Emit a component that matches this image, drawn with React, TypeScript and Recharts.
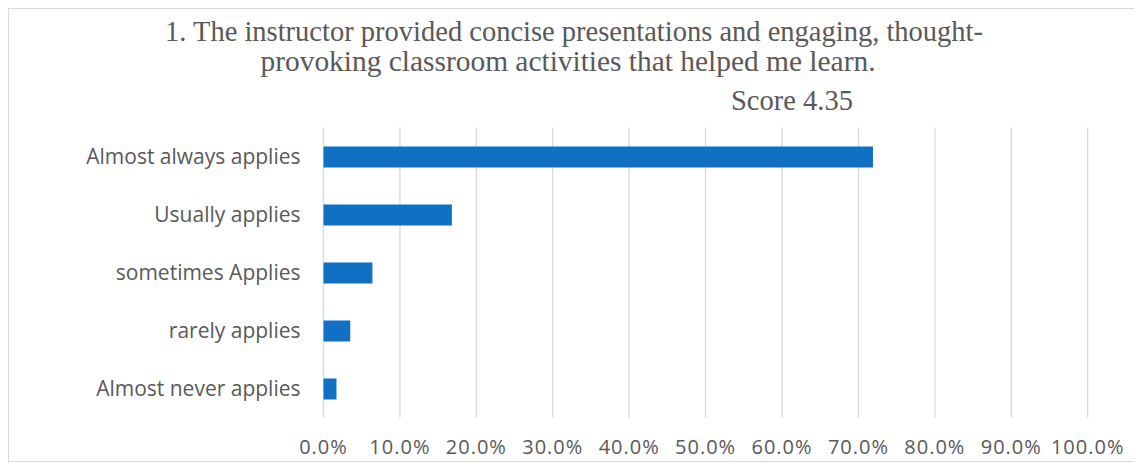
import { BarChart, Bar, XAxis, YAxis, CartesianGrid } from "recharts";

const categories = [
  "Almost always applies",
  "Usually applies",
  "sometimes Applies",
  "rarely applies",
  "Almost never applies",
];
const percents = [71.9, 16.8, 6.4, 3.5, 1.7];
const xTicks = [0, 10, 20, 30, 40, 50, 60, 70, 80, 90, 100];
const titleLines = [
  "1. The instructor provided concise presentations and engaging, thought-",
  "provoking classroom activities that helped me learn.",
];
const scoreLabel = "Score 4.35";

const data = categories.map((name, i) => ({ name, value: percents[i] }));

const grey = "#595959";

export default function App() {
  return (
    <div
      style={{
        position: "relative",
        width: 1140,
        height: 452,
        border: "1px solid #d9d9d9",
        background: "#fff",
      }}
    >
      <BarChart
        width={1140}
        height={452}
        data={data}
        layout="vertical"
        margin={{ top: 118.5, right: 61.3, left: 0, bottom: 3.5 }}
      >
        <CartesianGrid horizontal={false} stroke="#d9d9d9" strokeWidth={1.3} />
        <XAxis
          type="number"
          domain={[0, 100]}
          ticks={xTicks}
          interval={0}
          axisLine={false}
          tickLine={false}
          tickSize={0}
          tickMargin={22.5}
          height={40}
          tickFormatter={(v) => v.toFixed(1) + "%"}
          tick={{ fill: grey, fontSize: 20, fontFamily: "Open Sans", letterSpacing: 1 }}
        />
        <YAxis
          type="category"
          dataKey="name"
          width={314.5}
          axisLine={false}
          tickLine={false}
          tickSize={0}
          tickMargin={23}
          interval={0}
          tick={{ fill: grey, fontSize: 21, fontFamily: "Open Sans" }}
        />
        <Bar dataKey="value" fill="#1070c4" barSize={21} isAnimationActive={false} />
      </BarChart>
      {/* title block, Times-like, drawn over the chart */}
      <svg
        width={1140}
        height={118}
        style={{ position: "absolute", left: 0, top: 0, pointerEvents: "none" }}
      >
        <g fontFamily="Liberation Serif" fontSize={28.5} fill={grey}>
          <text x={565} y={31.5} textAnchor="middle" textLength={818} lengthAdjust="spacingAndGlyphs">
            {titleLines[0]}
          </text>
          <text x={559} y={62} textAnchor="middle" textLength={615} lengthAdjust="spacingAndGlyphs">
            {titleLines[1]}
          </text>
          <text x={722} y={101}>
            {scoreLabel}
          </text>
        </g>
      </svg>
    </div>
  );
}
